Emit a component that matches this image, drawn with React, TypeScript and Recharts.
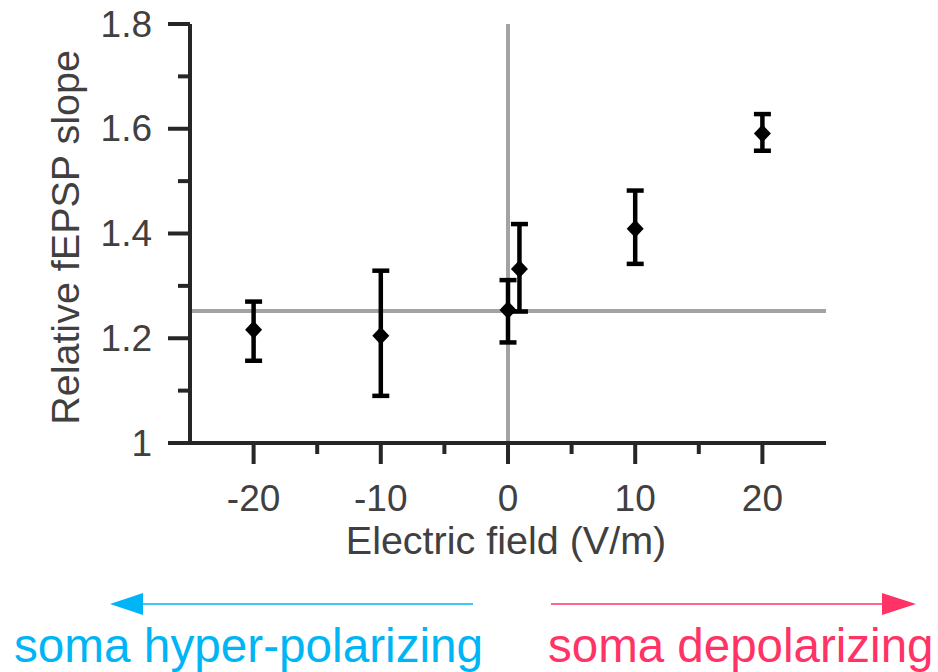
import { ScatterChart, Scatter, XAxis, YAxis, ErrorBar, ReferenceLine } from 'recharts';

const fieldValues = [-20, -10, 0, 0.9, 10, 20];
const slopeValues = [1.216, 1.205, 1.254, 1.332, 1.409, 1.591];
const slopeLow = [1.157, 1.09, 1.192, 1.251, 1.342, 1.558];
const slopeHigh = [1.27, 1.329, 1.311, 1.418, 1.482, 1.628];

const baselineSlope = 1.252;

const xMajorTicks = [-20, -10, 0, 10, 20];
const xMinorTicks = [-15, -5, 5, 15];
const yMajorTicks = [1, 1.2, 1.4, 1.6, 1.8];
const yMinorTicks = [1.1, 1.3, 1.5, 1.7];

const data = fieldValues.map((x, i) => ({
    x,
    y: slopeValues[i],
    err: [slopeValues[i] - slopeLow[i], slopeHigh[i] - slopeValues[i]],
}));

const FONT = '"Liberation Sans", Arial, Helvetica, sans-serif';
const AXIS = '#262626';
const TEXT = '#404040';

const isIn = (list: number[], v: number) => list.some((t) => Math.abs(t - v) < 1e-6);

const YTick = ({ x, y, payload }: any) => {
    const major = isIn(yMajorTicks, payload.value);
    return (
        <g>
            <line x1={x - (major ? 22 : 12)} x2={x} y1={y} y2={y} stroke={AXIS} strokeWidth={4} />
            {major && (
                <text x={x - 38} y={y} textAnchor="end" dominantBaseline="central" fill={TEXT} fontSize={37} fontFamily={FONT}>
                    {payload.value}
                </text>
            )}
        </g>
    );
};

const XTick = ({ x, y, payload }: any) => {
    const major = isIn(xMajorTicks, payload.value);
    return (
        <g>
            <line x1={x} x2={x} y1={y} y2={y + (major ? 21 : 11)} stroke={AXIS} strokeWidth={4} />
            {major && (
                <text x={x} y={y + 55} textAnchor="middle" dominantBaseline="central" fill={TEXT} fontSize={37} fontFamily={FONT}>
                    {payload.value}
                </text>
            )}
        </g>
    );
};

const YTitle = ({ viewBox }: any) => {
    const cx = viewBox.x + viewBox.width - 125;
    const cy = viewBox.y + viewBox.height / 2 + 4;
    return (
        <text x={cx} y={cy} transform={`rotate(-90 ${cx} ${cy})`} textAnchor="middle" dominantBaseline="central" fill={TEXT} fontSize={39.5} fontFamily={FONT}>
            Relative fEPSP slope
        </text>
    );
};

const XTitle = ({ viewBox }: any) => {
    const cx = viewBox.x + viewBox.width / 2 - 2;
    const cy = viewBox.y + 97;
    return (
        <text x={cx} y={cy} textAnchor="middle" dominantBaseline="central" fill={TEXT} fontSize={39.5} fontFamily={FONT}>
            Electric field (V/m)
        </text>
    );
};

const Diamond = ({ cx, cy }: any) => (
    <polygon points={`${cx},${cy - 9} ${cx + 8.5},${cy} ${cx},${cy + 9} ${cx - 8.5},${cy}`} fill="#000" />
);

export default function App() {
    return (
        <div style={{ position: 'absolute', left: 0, top: 0, width: 938, height: 672, background: '#fff' }}>
            <ScatterChart width={938} height={580} margin={{ top: 24, right: 112, bottom: 37, left: 0 }}>
                <XAxis
                    type="number"
                    dataKey="x"
                    domain={[-25, 25]}
                    ticks={[...xMajorTicks, ...xMinorTicks].sort((a, b) => a - b)}
                    interval={0}
                    tickSize={0}
                    tickMargin={0}
                    tickLine={false}
                    tick={<XTick />}
                    axisLine={{ stroke: AXIS, strokeWidth: 4 }}
                    height={100}
                    allowDataOverflow
                    label={{ content: <XTitle /> }}
                />
                <YAxis
                    type="number"
                    dataKey="y"
                    domain={[1, 1.8]}
                    ticks={[...yMajorTicks, ...yMinorTicks].sort((a, b) => a - b)}
                    interval={0}
                    tickSize={0}
                    tickMargin={0}
                    tickLine={false}
                    tick={<YTick />}
                    axisLine={{ stroke: AXIS, strokeWidth: 4 }}
                    width={190}
                    allowDataOverflow
                    label={{ content: <YTitle /> }}
                />
                <ReferenceLine y={baselineSlope} stroke="#a3a3a3" strokeWidth={4} />
                <ReferenceLine x={0} stroke="#a3a3a3" strokeWidth={4} />
                <Scatter data={data} shape={<Diamond />} isAnimationActive={false}>
                    <ErrorBar dataKey="err" direction="y" width={8.5} stroke="#000" strokeWidth={4.5} isAnimationActive={false} />
                </Scatter>
            </ScatterChart>
            <svg width={938} height={92} style={{ position: 'absolute', left: 0, top: 580 }}>
                <line x1={473} x2={140} y1={24} y2={24} stroke="#00b5f5" strokeWidth={1.5} />
                <polygon points="110,24 143,13 143,35" fill="#00b5f5" />
                <line x1={551} x2={885} y1={24} y2={24} stroke="#ff3366" strokeWidth={1.5} />
                <polygon points="916,24 882,13 882,35" fill="#ff3366" />
                <text x={14} y={82} fill="#00b5f5" fontSize={47.7} fontFamily={FONT}>
                    soma hyper-polarizing
                </text>
                <text x={548} y={82} fill="#ff3366" fontSize={47.5} fontFamily={FONT}>
                    soma depolarizing
                </text>
            </svg>
        </div>
    );
}
